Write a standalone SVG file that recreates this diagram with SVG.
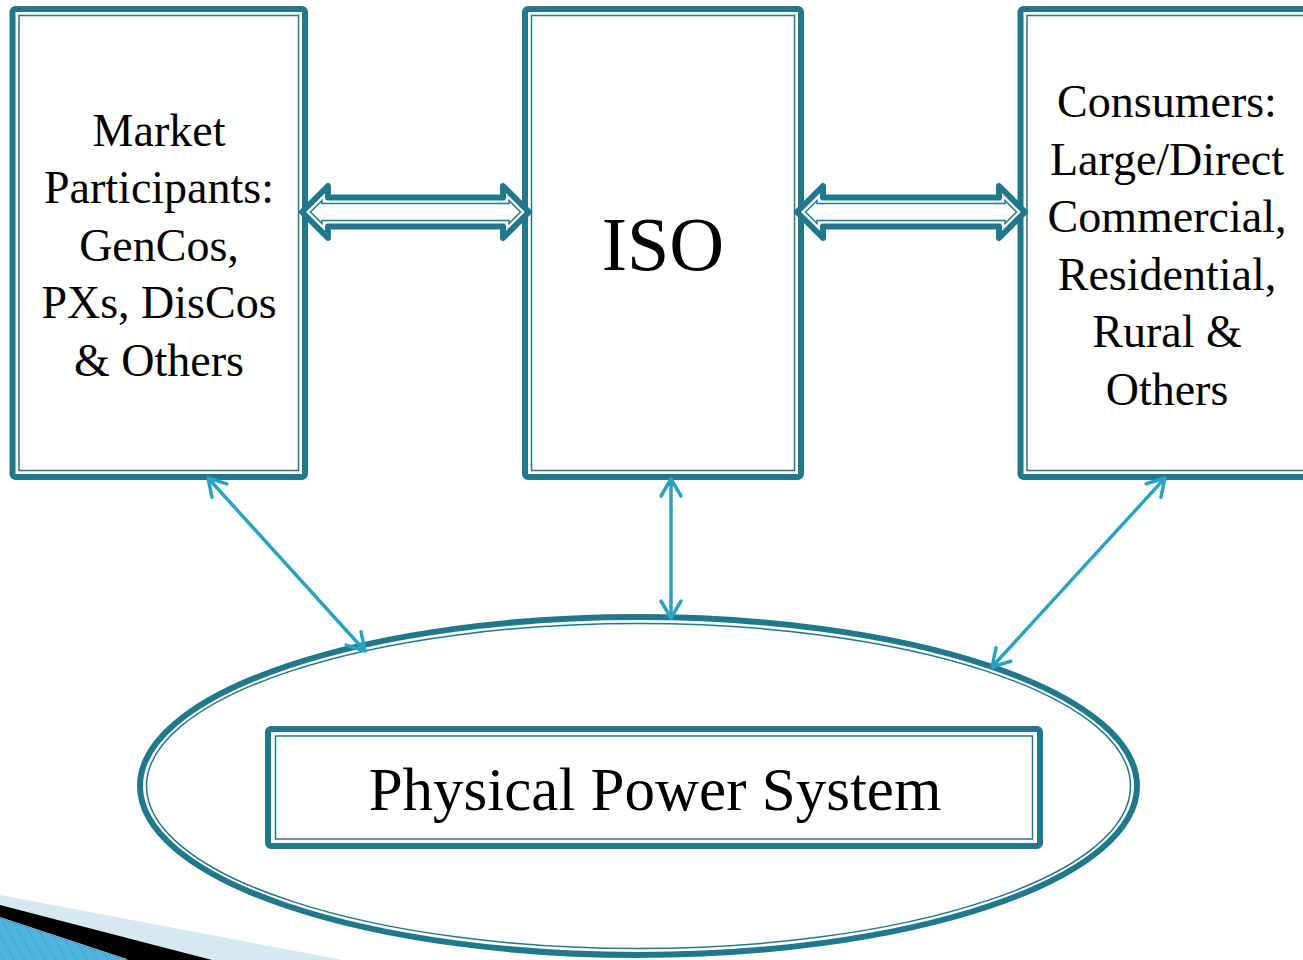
<svg xmlns="http://www.w3.org/2000/svg" width="1303" height="960" viewBox="0 0 1303 960">
  <style>
    .thick { fill: none; stroke: #20788c; stroke-width: 6; stroke-linejoin: round; }
    .thin { fill: none; stroke: #20788c; stroke-width: 1.5; }
    .blk { fill: #ffffff; stroke: #20788c; stroke-width: 6; stroke-linejoin: round; }
    .link { fill: none; stroke: #2aa3c2; stroke-width: 3.5; marker-start: url(#ah); marker-end: url(#ah); }
    .lbl { font-family: "Liberation Serif", "Times New Roman", serif; fill: #000; text-anchor: middle; }
    .side { font-size: 46px; }
  </style>
  <defs>
    <marker id="ah" markerUnits="userSpaceOnUse" markerWidth="30" markerHeight="30" viewBox="-25 -15 30 30" refX="0" refY="0" orient="auto-start-reverse">
      <path d="M-17,-10 L0,0 L-17,10" fill="none" stroke="#2aa3c2" stroke-width="3.5" stroke-linecap="round" stroke-linejoin="round"/>
    </marker>
    <pattern id="hatch" patternUnits="userSpaceOnUse" width="9" height="9" patternTransform="rotate(-30)">
      <rect width="9" height="9" fill="#4fb5dc"/>
      <line x1="0" y1="0" x2="0" y2="9" stroke="#3a9cc4" stroke-width="1.3"/>
    </pattern>
  </defs>

  <rect width="1303" height="960" fill="#ffffff"/>

  <g id="decoration">
    <polygon points="0,895 343,960 0,960" fill="#d6e9f1"/>
    <polygon points="0,905 212,960 0,960" fill="#000000"/>
    <polygon points="0,918 127,960 0,960" fill="url(#hatch)"/>
    <line x1="0" y1="917.5" x2="127" y2="959.5" stroke="#8ccbe2" stroke-width="1"/>
  </g>

  <g id="node-physical">
    <ellipse cx="638.5" cy="786" rx="498.5" ry="169" class="thick"/>
    <ellipse cx="638.5" cy="786" rx="492" ry="162.5" class="thin"/>
    <rect x="268" y="729" width="772" height="117" rx="3" class="thick"/>
    <rect x="275.5" y="736" width="757" height="103" class="thin"/>
    <text x="655" y="810" class="lbl" font-size="61">Physical Power System</text>
  </g>

  <g id="node-market">
    <rect x="12.5" y="9" width="292.5" height="468" rx="3" class="thick"/>
    <rect x="19" y="15.5" width="279.5" height="455" class="thin"/>
    <text class="lbl side" x="159" y="146">Market</text>
    <text class="lbl side" x="159" y="203">Participants:</text>
    <text class="lbl side" x="159" y="261">GenCos,</text>
    <text class="lbl side" x="159" y="318">PXs, DisCos</text>
    <text class="lbl side" x="159" y="376">&amp; Others</text>
  </g>

  <g id="node-iso">
    <rect x="525" y="9" width="276" height="468" rx="3" class="thick"/>
    <rect x="531.5" y="15.5" width="263" height="455" class="thin"/>
    <text x="663" y="270" class="lbl" font-size="76">ISO</text>
  </g>

  <g id="node-consumers">
    <rect x="1020.5" y="9" width="300" height="468" rx="3" class="thick"/>
    <rect x="1027" y="15.5" width="300" height="455" class="thin"/>
    <text class="lbl side" x="1167" y="117">Consumers:</text>
    <text class="lbl side" x="1167" y="175">Large/Direct</text>
    <text class="lbl side" x="1167" y="232">Commercial,</text>
    <text class="lbl side" x="1167" y="290">Residential,</text>
    <text class="lbl side" x="1167" y="347">Rural &amp;</text>
    <text class="lbl side" x="1167" y="405">Others</text>
  </g>

  <g id="connectors">
    <g id="block-market-iso">
      <path class="blk" d="M302,212 L328,186 L328,197.5 L503,197.5 L503,186 L529,212 L503,238 L503,226.5 L328,226.5 L328,238 Z"/>
      <path class="thin" d="M310.5,212 L322,200.5 L322,203.5 L509,203.5 L509,200.5 L520.5,212 L509,223.5 L509,220.5 L322,220.5 L322,223.5 Z"/>
    </g>
    <g id="block-iso-consumers">
      <path class="blk" d="M797,212 L823,186 L823,197.5 L999,197.5 L999,186 L1025,212 L999,238 L999,226.5 L823,226.5 L823,238 Z"/>
      <path class="thin" d="M805.5,212 L817,200.5 L817,203.5 L1005,203.5 L1005,200.5 L1016.5,212 L1005,223.5 L1005,220.5 L817,220.5 L817,223.5 Z"/>
    </g>
    <line class="link" x1="208" y1="478" x2="365" y2="651"/>
    <line class="link" x1="671" y1="479" x2="671" y2="618"/>
    <line class="link" x1="1165" y1="478" x2="992" y2="667"/>
  </g>
</svg>
